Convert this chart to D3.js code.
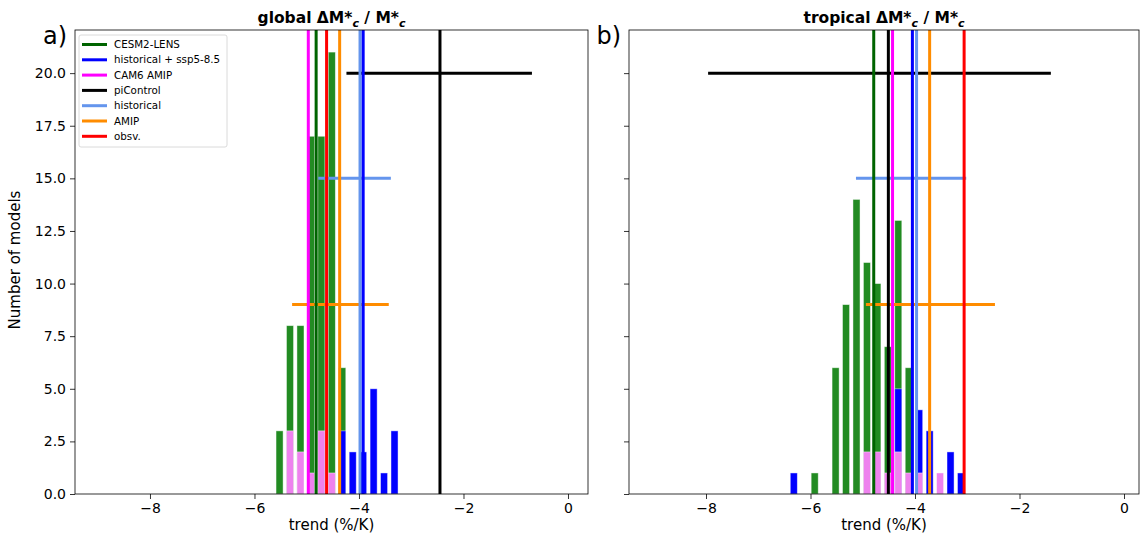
<!DOCTYPE html>
<html>
<head>
<meta charset="utf-8">
<script src="https://cdn.jsdelivr.net/npm/d3@7"></script>
<style>
  body { margin: 0; background: #fff; }
  svg { font-family: "DejaVu Sans", sans-serif; }
</style>
</head>
<body>
<script>
// histogram bin centres (trend, %/K)
const binCenters = [-6.32, -6.12, -5.92, -5.72, -5.52, -5.32, -5.12, -4.92, -4.72, -4.52, -4.32, -4.12, -3.92, -3.72, -3.52, -3.32, -3.12];

// global panel counts
const globalLens = [0, 0, 0, 0, 3, 8, 8, 17, 17, 21, 6, 0, 0, 0, 0, 0, 0];
const globalSsp  = [0, 0, 0, 0, 0, 0, 0, 0, 0, 0, 3, 2, 2, 5, 1, 3, 0];
const globalCam6 = [0, 0, 0, 0, 0, 3, 2, 1, 3, 1, 0, 0, 0, 0, 0, 0, 0];

// tropical panel counts
const tropLens = [0, 0, 1, 0, 6, 9, 14, 11, 10, 7, 13, 6, 0, 0, 0, 0, 0];
const tropSsp  = [1, 0, 0, 0, 0, 0, 0, 0, 0, 0, 5, 0, 4, 3, 0, 2, 1];
const tropCam6 = [0, 0, 0, 0, 0, 0, 0, 2, 2, 1, 2, 1, 1, 0, 1, 0, 0];

// mean lines: CESM2-LENS, hist+ssp585, CAM6 AMIP, piControl, historical, AMIP, obsv.
const seriesNames = ["CESM2-LENS", "historical + ssp5-8.5", "CAM6 AMIP", "piControl", "historical", "AMIP", "obsv."];
const globalMeans = [-4.82, -3.92, -4.97, -2.45, -3.98, -4.37, -4.62];
const tropMeans   = [-4.79, -4.05, -4.43, -4.51, -3.97, -3.72, -3.06];

// ranges drawn as horizontal bars: [series, y, lo, hi]
const globalRanges = [["piControl", 20, -4.24, -0.69], ["historical", 15, -4.78, -3.39], ["AMIP", 9, -5.28, -3.43]];
const tropRanges   = [["piControl", 20, -7.96, -1.40], ["historical", 15, -5.13, -3.02], ["AMIP", 9, -4.94, -2.47]];

const xTicks = [-8, -6, -4, -2, 0];
const yTicks = [0, 2.5, 5, 7.5, 10, 12.5, 15, 17.5, 20];

const lineColors = {
  "CESM2-LENS": "#006400",
  "historical + ssp5-8.5": "#0000ff",
  "CAM6 AMIP": "#ff00ff",
  "piControl": "#000000",
  "historical": "#6495ed",
  "AMIP": "#ff8c00",
  "obsv.": "#ff0000"
};
const barColors = { lens: "#228b22", ssp: "#0000ff", cam6: "#ee82ee" };

const W = 1140, H = 536;
const svg = d3.select("body").append("svg")
  .attr("width", W).attr("height", H);

const panels = [
  { tag: "a)", title: "global", left: 75, right: 588, xDomain: [-9.435, 0.383],
    lens: globalLens, ssp: globalSsp, cam6: globalCam6, means: globalMeans, ranges: globalRanges, legend: true, yLabels: true },
  { tag: "b)", title: "tropical", left: 629, right: 1139, xDomain: [-9.474, 0.287],
    lens: tropLens, ssp: tropSsp, cam6: tropCam6, means: tropMeans, ranges: tropRanges, legend: false, yLabels: false }
];

const plotTop = 30, plotBottom = 494;
const binW = 0.135;

panels.forEach(p => {
  const x = d3.scaleLinear().domain(p.xDomain).range([p.left, p.right]);
  const y = d3.scaleLinear().domain([0, 22.05]).range([plotBottom, plotTop]);
  const g = svg.append("g");

  const clipId = "clip-" + p.title;
  svg.append("clipPath").attr("id", clipId)
    .append("rect").attr("x", p.left).attr("y", plotTop)
    .attr("width", p.right - p.left).attr("height", plotBottom - plotTop);
  const plot = g.append("g").attr("clip-path", `url(#${clipId})`);

  // bars: CESM2-LENS, then ssp, then CAM6 on top
  [["lens", p.lens], ["ssp", p.ssp], ["cam6", p.cam6]].forEach(([key, counts]) => {
    plot.selectAll(null)
      .data(binCenters.map((c, i) => ({ c, n: counts[i] })).filter(d => d.n > 0))
      .enter().append("rect")
      .attr("x", d => x(d.c - binW / 2))
      .attr("width", d => x(d.c + binW / 2) - x(d.c - binW / 2))
      .attr("y", d => y(d.n))
      .attr("height", d => y(0) - y(d.n))
      .attr("fill", barColors[key])
      .attr("stroke", "rgba(255,255,255,0.55)")
      .attr("stroke-width", 0.8);
  });

  // horizontal range lines
  plot.selectAll(null).data(p.ranges).enter().append("line")
    .attr("x1", d => x(d[2])).attr("x2", d => x(d[3]))
    .attr("y1", d => y(d[1])).attr("y2", d => y(d[1]))
    .attr("stroke", d => lineColors[d[0]])
    .attr("stroke-width", 3);

  // vertical mean lines (historical drawn before hist+ssp)
  const order = [0, 4, 1, 2, 3, 5, 6];
  plot.selectAll(null).data(order).enter().append("line")
    .attr("x1", i => x(p.means[i])).attr("x2", i => x(p.means[i]))
    .attr("y1", plotTop).attr("y2", plotBottom)
    .attr("stroke", i => lineColors[seriesNames[i]])
    .attr("stroke-width", 3);

  // frame
  g.append("rect").attr("x", p.left).attr("y", plotTop)
    .attr("width", p.right - p.left).attr("height", plotBottom - plotTop)
    .attr("fill", "none").attr("stroke", "#000").attr("stroke-width", 0.8);

  // x axis
  const xAxis = g.append("g").attr("transform", `translate(0,${plotBottom})`)
    .call(d3.axisBottom(x).tickValues(xTicks).tickSize(5).tickPadding(4)
      .tickFormat(d => d < 0 ? "\u2212" + Math.abs(d) : d));
  xAxis.select(".domain").remove();
  xAxis.selectAll("text").attr("font-size", 14).attr("fill", "#000")
    .attr("font-family", "DejaVu Sans");
  xAxis.selectAll("line").attr("stroke", "#000").attr("stroke-width", 0.8);

  // y axis
  const yAxis = g.append("g").attr("transform", `translate(${p.left},0)`)
    .call(d3.axisLeft(y).tickValues(yTicks).tickSize(5).tickPadding(4)
      .tickFormat(p.yLabels ? d3.format(".1f") : () => ""));
  yAxis.select(".domain").remove();
  yAxis.selectAll("text").attr("font-size", 14).attr("fill", "#000")
    .attr("font-family", "DejaVu Sans");
  yAxis.selectAll("line").attr("stroke", "#000").attr("stroke-width", 0.8);

  // x label
  g.append("text").attr("x", (p.left + p.right) / 2).attr("y", 530)
    .attr("text-anchor", "middle").attr("font-size", 15).text("trend (%/K)");

  // title
  const cx = (p.left + p.right) / 2;
  const t = g.append("text").attr("x", cx).attr("y", 23)
    .attr("text-anchor", "middle").attr("font-size", 15.5).attr("font-weight", "bold");
  t.append("tspan").text(p.title + " \u0394M*");
  t.append("tspan").attr("dy", 4).attr("font-size", 11).attr("font-style", "italic").text("c");
  t.append("tspan").attr("dy", -4).text(" / M*");
  t.append("tspan").attr("dy", 4).attr("font-size", 11).attr("font-style", "italic").text("c");

  // panel tag
  g.append("text").attr("x", p.left - 8).attr("y", 44)
    .attr("text-anchor", "end").attr("font-size", 24).text(p.tag);

  if (p.legend) {
    const lg = g.append("g");
    lg.append("rect").attr("x", 79).attr("y", 35).attr("width", 148).attr("height", 112)
      .attr("rx", 2).attr("fill", "#fff").attr("fill-opacity", 0.8)
      .attr("stroke", "#d0d0d0").attr("stroke-width", 0.8);
    const rows = lg.selectAll(null).data(seriesNames).enter().append("g")
      .attr("transform", (d, i) => `translate(0,${44.5 + i * 15.3})`);
    rows.append("line").attr("x1", 82).attr("x2", 107).attr("y1", 0).attr("y2", 0)
      .attr("stroke", d => lineColors[d]).attr("stroke-width", 3);
    rows.append("text").attr("x", 114).attr("y", 3.6).attr("font-size", 10.3).text(d => d);
  }
});

// y label
svg.append("text")
  .attr("transform", `translate(20,${(plotTop + plotBottom) / 2 - 2}) rotate(-90)`)
  .attr("text-anchor", "middle").attr("font-size", 15).text("Number of models");
</script>
</body>
</html>
